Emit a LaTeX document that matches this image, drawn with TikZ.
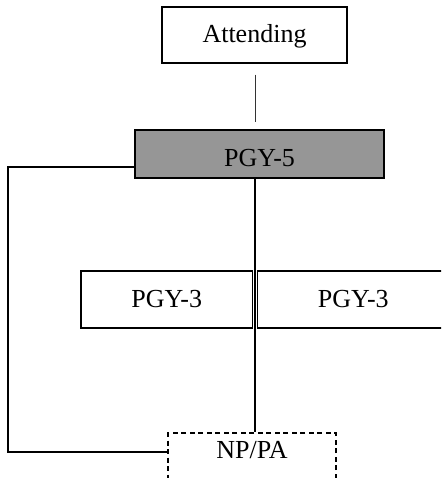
\documentclass[tikz,border=0pt]{standalone}
\usepackage{fontspec}
\setmainfont{Liberation Serif}
\begin{document}
\begin{tikzpicture}[x=1pt,y=-1pt,
  box/.style={draw=black,line width=1.3pt,rectangle,inner sep=0pt},
  lab/.style={anchor=base,inner sep=0pt,font=\fontsize{26}{31}\selectfont},
  conn/.style={line width=1.3pt,black}]
\useasboundingbox (0,0) rectangle (441,478);
\clip (0,0) rectangle (441,478);
% boxes
\node[box,minimum width=185,minimum height=56] (att) at (254.5,35) {};
\node[box,fill=black!41,minimum width=249,minimum height=48] (p5) at (259.5,154) {};
\node[box,minimum width=171.5,minimum height=57] (p3a) at (166.75,299.5) {};
\node[box,minimum width=191.5,minimum height=57] (p3b) at (353.25,299.5) {};
\node[box,dash pattern=on 5pt off 3.5pt,minimum width=168,minimum height=56] (np) at (252,461) {};
% labels
\node[lab] (tatt) at (254.5,43) {Attending};
\node[lab] (tp5) at (259.5,167) {PGY-5};
\node[lab] (tp3a) at (166.75,307) {PGY-3};
\node[lab] (tp3b) at (353.25,307) {PGY-3};
\node[lab] (tnp) at (252,458) {NP/PA};
% connectors
\coordinate (v) at (255,0);
\coordinate (lft) at (8,0);
\coordinate (a1) at ([yshift=-11pt]att.south);
\coordinate (a2) at ([yshift=7pt]p5.north);
\coordinate (w1) at ([yshift=-13pt]p5.west);
\coordinate (w2) at ([yshift=9pt]np.west);
\draw[line width=0.8pt,black!80] (v |- a1) -- (v |- a2);
\draw[conn] (v |- p5.south) -- (v |- np.north);
\draw[conn] (w1) -- (lft |- w1) |- (w2);
\end{tikzpicture}
\end{document}
